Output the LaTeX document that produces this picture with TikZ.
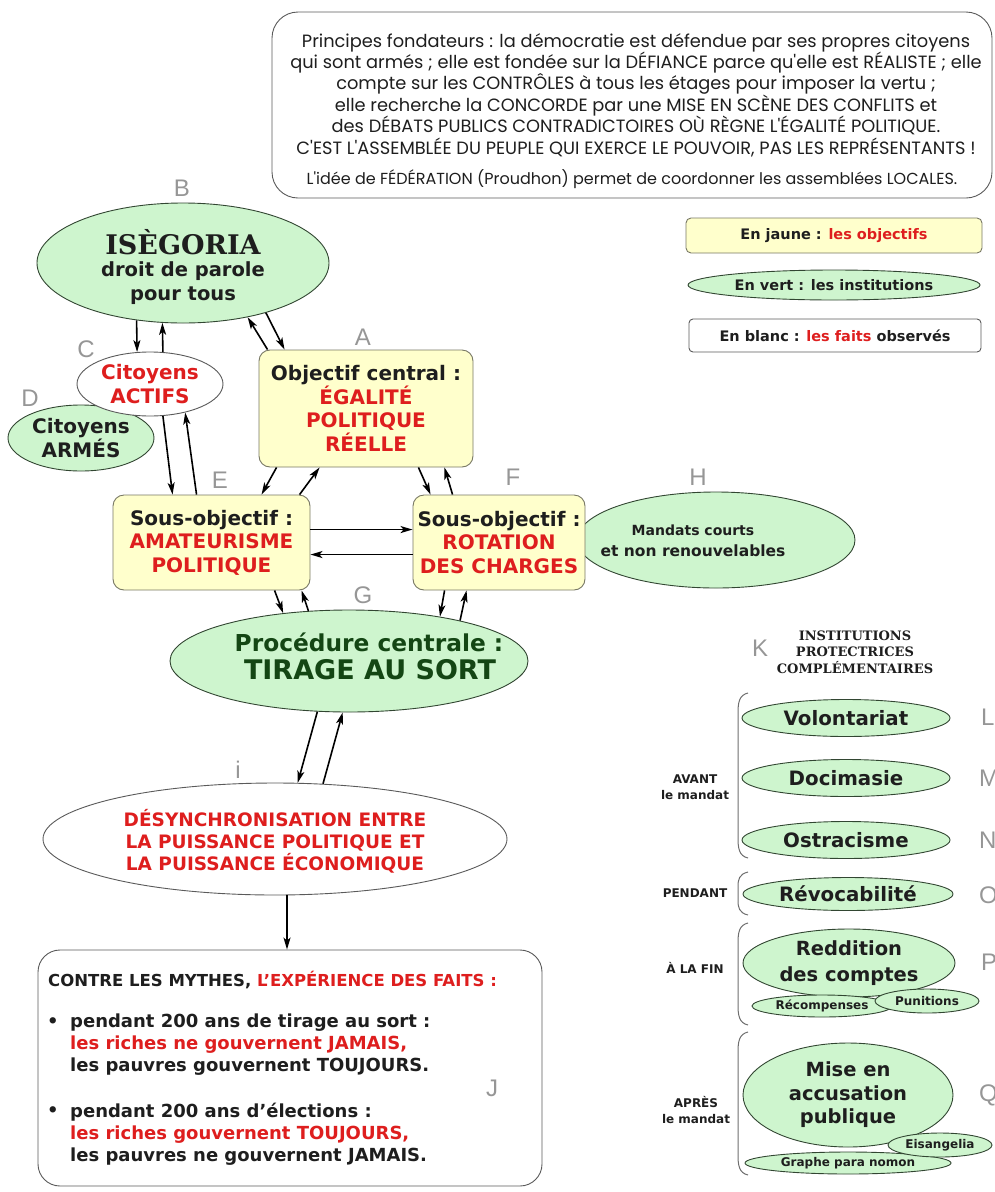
\documentclass[tikz,border=0pt]{standalone}
\usepackage{fontspec}
\setmainfont{DejaVu Sans}
\newfontfamily\topfont{Poppins}
\newfontfamily\serifb{DejaVu Serif}
\newfontfamily\labfont{Liberation Sans}
\usetikzlibrary{shapes.geometric,arrows.meta,calc}
\definecolor{myred}{RGB}{222,30,30}
\definecolor{yfill}{RGB}{255,255,204}
\definecolor{yborder}{RGB}{120,120,100}
\definecolor{gfill}{RGB}{206,245,206}
\definecolor{gborder}{RGB}{50,70,50}
\definecolor{wborder}{RGB}{90,90,90}
\definecolor{labgray}{RGB}{150,150,150}
\definecolor{dkgreen}{RGB}{20,70,20}
\definecolor{dktext}{RGB}{30,30,30}
\definecolor{bracegray}{RGB}{110,110,110}
\newcommand\myfs[2]{\fontsize{#1}{#2}\selectfont\bfseries}
\begin{document}
\begin{tikzpicture}[x=1pt,y=-1pt,
  ybox/.style={rectangle, draw=yborder, fill=yfill, rounded corners=11pt, line width=0.9pt, inner sep=0pt, align=center, text=dktext},
  gell/.style={ellipse, draw=gborder, fill=gfill, line width=0.9pt, inner sep=0pt, align=center, text=dktext},
  well/.style={ellipse, draw=wborder, fill=white, line width=0.9pt, inner sep=0pt, align=center},
  txt/.style={align=center, inner sep=0pt, text=dktext},
  lab/.style={font=\labfont\fontsize{24}{24}\selectfont, text=labgray, inner sep=0pt},
  arr/.style={-{Stealth[length=12pt,width=7pt,inset=3pt]}, line width=1.6pt, draw=black},
  brk/.style={draw=bracegray, line width=1pt}
]
\useasboundingbox (0,0) rectangle (994,1192);

% ---------- top principles box ----------
\node[rectangle, draw=wborder, fill=white, rounded corners=26pt, line width=0.9pt,
      minimum width=720, minimum height=186] (top) at (632,105) {};
\node[txt, font=\topfont\fontsize{17.8}{21.4}\selectfont, text=dktext] (toptxt) at (636,95)
 {Principes fondateurs : la démocratie est défendue par ses propres citoyens\\
  qui sont armés ; elle est fondée sur la DÉFIANCE parce qu'elle est RÉALISTE ; elle\\
  compte sur les CONTRÔLES à tous les étages pour imposer la vertu ;\\
  elle recherche la CONCORDE par une MISE EN SCÈNE DES CONFLITS et\\
  des DÉBATS PUBLICS CONTRADICTOIRES OÙ RÈGNE L'ÉGALITÉ POLITIQUE.\\
  C'EST L'ASSEMBLÉE DU PEUPLE QUI EXERCE LE POUVOIR, PAS LES REPRÉSENTANTS !};
\node[txt, font=\topfont\fontsize{16}{18}\selectfont] (toplast) at (632,179)
 {L'idée de FÉDÉRATION (Proudhon) permet de coordonner les assemblées LOCALES.};

% ---------- legend ----------
\node[ybox, rounded corners=5pt, minimum width=296, minimum height=35, font=\myfs{14.5}{16}] (legY) at (834,235.5)
 {En jaune : \textcolor{myred}{les objectifs}};
\node[gell, minimum width=292, minimum height=30, font=\myfs{14.5}{16}] (legG) at (834,285)
 {En vert : les institutions};
\node[rectangle, draw=wborder, fill=white, rounded corners=4pt, line width=0.9pt, minimum width=292, minimum height=33,
      font=\myfs{14.5}{16}, text=dktext] (legW) at (835,335.5)
 {En blanc : \textcolor{myred}{les faits} observés};

% ---------- B ----------
\node[gell, minimum width=292, minimum height=120] (B) at (183,263) {};
\node[txt, font=\serifb\fontsize{27}{30}\selectfont\bfseries] (Bt1) at (183,242) {ISÈGORIA};
\node[txt, font=\myfs{19.5}{23.5}] (Bt2) at (183,283) {droit de parole\\pour tous};

% ---------- D and C ----------
\node[gell, minimum width=146, minimum height=66, font=\myfs{20}{23.5}] (D) at (81,438) {Citoyens\\ARMÉS};
\node[well, minimum width=146, minimum height=64, font=\myfs{20}{23.5}, text=myred] (C) at (150,384) {Citoyens\\ACTIFS};

% ---------- A ----------
\node[ybox, minimum width=214, minimum height=117, font=\myfs{20}{23.7}] (A) at (366,408.5)
 {Objectif central :\\\textcolor{myred}{ÉGALITÉ}\\\textcolor{myred}{POLITIQUE}\\\textcolor{myred}{RÉELLE}};

% ---------- H, E, F ----------
\node[gell, minimum width=278, minimum height=96] (H) at (716,540) {};
\node[txt, font=\myfs{14}{16}] (Ht1) at (693,530) {Mandats courts};
\node[txt, font=\myfs{15.5}{18}] (Ht2) at (693,551) {et non renouvelables};
\node[ybox, minimum width=197, minimum height=95, font=\myfs{20}{23.5}] (E) at (211.5,542.5)
 {Sous-objectif :\\\textcolor{myred}{AMATEURISME}\\\textcolor{myred}{POLITIQUE}};
\node[ybox, minimum width=172, minimum height=95, font=\myfs{20}{23.5}] (F) at (499,542.5)
 {Sous-objectif :\\\textcolor{myred}{ROTATION}\\\textcolor{myred}{DES CHARGES}};

% ---------- G ----------
\node[gell, minimum width=358, minimum height=102] (G) at (349,661) {};
\node[txt, font=\myfs{23.3}{26}, text=dkgreen] (Gt1) at (369,642) {Procédure centrale :};
\node[txt, font=\myfs{27}{30}, text=dkgreen] (Gt2) at (370,670) {TIRAGE AU SORT};

% ---------- i ----------
\node[well, minimum width=464, minimum height=112] (I) at (275,839) {};
\node[txt, font=\myfs{18.5}{22}, text=myred] (It) at (275,841)
 {DÉSYNCHRONISATION ENTRE\\LA PUISSANCE POLITIQUE ET\\LA PUISSANCE ÉCONOMIQUE};

% ---------- J ----------
\node[rectangle, draw=wborder, fill=white, rounded corners=22pt, line width=0.9pt,
      minimum width=504, minimum height=236] (J) at (290,1068) {};
\node[txt, anchor=west, font=\myfs{16.5}{18}] (Jh) at (48,980)
 {CONTRE LES MYTHES, \textcolor{myred}{L'EXPÉRIENCE DES FAITS :}};
\node[txt, font=\myfs{18}{22}] (Jb1) at (53,1023) {•};
\node[txt, anchor=west, align=left, font=\myfs{18}{22}] (Jl1) at (70,1045)
 {pendant 200 ans de tirage au sort :\\\textcolor{myred}{les riches ne gouvernent JAMAIS,}\\les pauvres gouvernent TOUJOURS.};
\node[txt, font=\myfs{18}{22}] (Jb2) at (53,1112) {•};
\node[txt, anchor=west, align=left, font=\myfs{18}{22}] (Jl2) at (70,1134)
 {pendant 200 ans d'élections :\\\textcolor{myred}{les riches gouvernent TOUJOURS,}\\les pauvres ne gouvernent JAMAIS.};

% ---------- right column ----------
\node[txt, font=\serifb\fontsize{13}{16.5}\selectfont\bfseries] (Kt) at (855,652)
 {INSTITUTIONS\\PROTECTRICES\\COMPLÉMENTAIRES};
\node[gell, minimum width=208, minimum height=37, font=\myfs{19.8}{22}] (Lv) at (846,718) {Volontariat};
\node[gell, minimum width=208, minimum height=37, font=\myfs{19.8}{22}] (Md) at (846,778) {Docimasie};
\node[gell, minimum width=208, minimum height=37, font=\myfs{19.8}{22}] (No) at (846,840) {Ostracisme};
\node[gell, minimum width=210, minimum height=33, font=\myfs{19.8}{22}] (Or) at (848,894) {Révocabilité};
\node[gell, minimum width=212, minimum height=68, font=\myfs{19.5}{26}] (Pr) at (849,963) {Reddition\\des comptes};
\node[gell, minimum width=140, minimum height=22, font=\myfs{12}{14}] (Prc) at (822,1006) {Récompenses};
\node[gell, minimum width=104, minimum height=24, font=\myfs{12}{14}] (Ppu) at (927,1001) {Punitions};
\node[gell, minimum width=210, minimum height=104, font=\myfs{19.5}{23.5}] (Qm) at (848,1095) {Mise en\\accusation\\publique};
\node[gell, minimum width=206, minimum height=22, font=\myfs{12}{14}] (Qg) at (848,1163) {Graphe para nomon};
\node[gell, minimum width=104, minimum height=24, font=\myfs{12}{14}] (Qe) at (940,1145) {Eisangelia};

\node[txt, font=\myfs{12}{16}] (tAv) at (695,787) {AVANT\\le mandat};
\node[txt, font=\myfs{12}{16}] (tPe) at (695,893) {PENDANT};
\node[txt, font=\myfs{12}{16}] (tFi) at (695,968) {À LA FIN};
\node[txt, font=\myfs{12}{16}] (tAp) at (696,1110) {APRÈS\\le mandat};

% brackets
\draw[brk] (748,693) .. controls (739,695) and (738,703) .. (738,713) -- (738,838) .. controls (738,848) and (739,856) .. (748,858);
\draw[brk] (748,872) .. controls (739,874) and (738,880) .. (738,886) -- (738,901) .. controls (738,907) and (739,913) .. (748,915);
\draw[brk] (748,923) .. controls (739,925) and (738,933) .. (738,943) -- (738,1005) .. controls (738,1015) and (739,1023) .. (748,1025);
\draw[brk] (748,1032) .. controls (739,1034) and (738,1042) .. (738,1052) -- (738,1155) .. controls (738,1165) and (739,1173) .. (748,1175);

% ---------- letter labels ----------
\node[lab] (lA) at (363,337) {A};
\node[lab] (lB) at (182,188) {B};
\node[lab] (lC) at (86,349) {C};
\node[lab] (lD) at (30,398) {D};
\node[lab] (lE) at (220,480) {E};
\node[lab] (lF) at (513,477) {F};
\node[lab] (lG) at (363,595) {G};
\node[lab] (lH) at (698,477) {H};
\node[lab] (lI) at (238,770) {i};
\node[lab] (lJ) at (492,1088) {J};
\node[lab] (lK) at (760,648) {K};
\node[lab, anchor=west] (lL) at (981,717) {L};
\node[lab, anchor=west] (lM) at (979,778) {M};
\node[lab, anchor=west] (lN) at (979,840) {N};
\node[lab, anchor=west] (lO) at (979,895) {O};
\node[lab, anchor=west] (lP) at (981,962) {P};
\node[lab, anchor=west] (lQ) at (979,1095) {Q};

% ---------- connectors ----------
\draw[arr] (B.231) -- (C.112);
\draw[arr] (C.68) -- (B.251);
\draw[arr] ([xshift=9pt]A.north west) -- (B.320);
\draw[arr] (B.329) -- ([xshift=26pt]A.north west);
\draw[arr] (C.292) -- ([xshift=60pt]E.north west);
\draw[arr] ([xshift=84pt]E.north west) -- (C.321);
\draw[arr] ([xshift=18pt]A.south west) -- ([xshift=149pt]E.north west);
\draw[arr] ([xshift=187pt]E.north west) -- ([xshift=61pt]A.south west);
\draw[arr] ([xshift=-55pt]A.south east) -- ([xshift=18pt]F.north west);
\draw[arr] ([xshift=40pt]F.north west) -- ([xshift=-29pt]A.south east);
\draw[arr] ([yshift=-35pt]E.north east) -- ([yshift=-35pt]F.north west);
\draw[arr] ([yshift=-60pt]F.north west) -- ([yshift=-60pt]E.north east);
\draw[arr] ([xshift=162pt]E.south west) -- (G.144);
\draw[arr] (G.129) -- ([xshift=189pt]E.south west);
\draw[arr] ([xshift=32pt]F.south west) -- (G.26);
\draw[arr] (G.20) -- ([xshift=54pt]F.south west);
\draw[arr] (G.238) -- (I.68);
\draw[arr] (I.49) -- (G.263);
\draw[arr] ([xshift=12pt]I.south) -- ([xshift=12pt]I.south |- J.north);
\end{tikzpicture}
\end{document}
